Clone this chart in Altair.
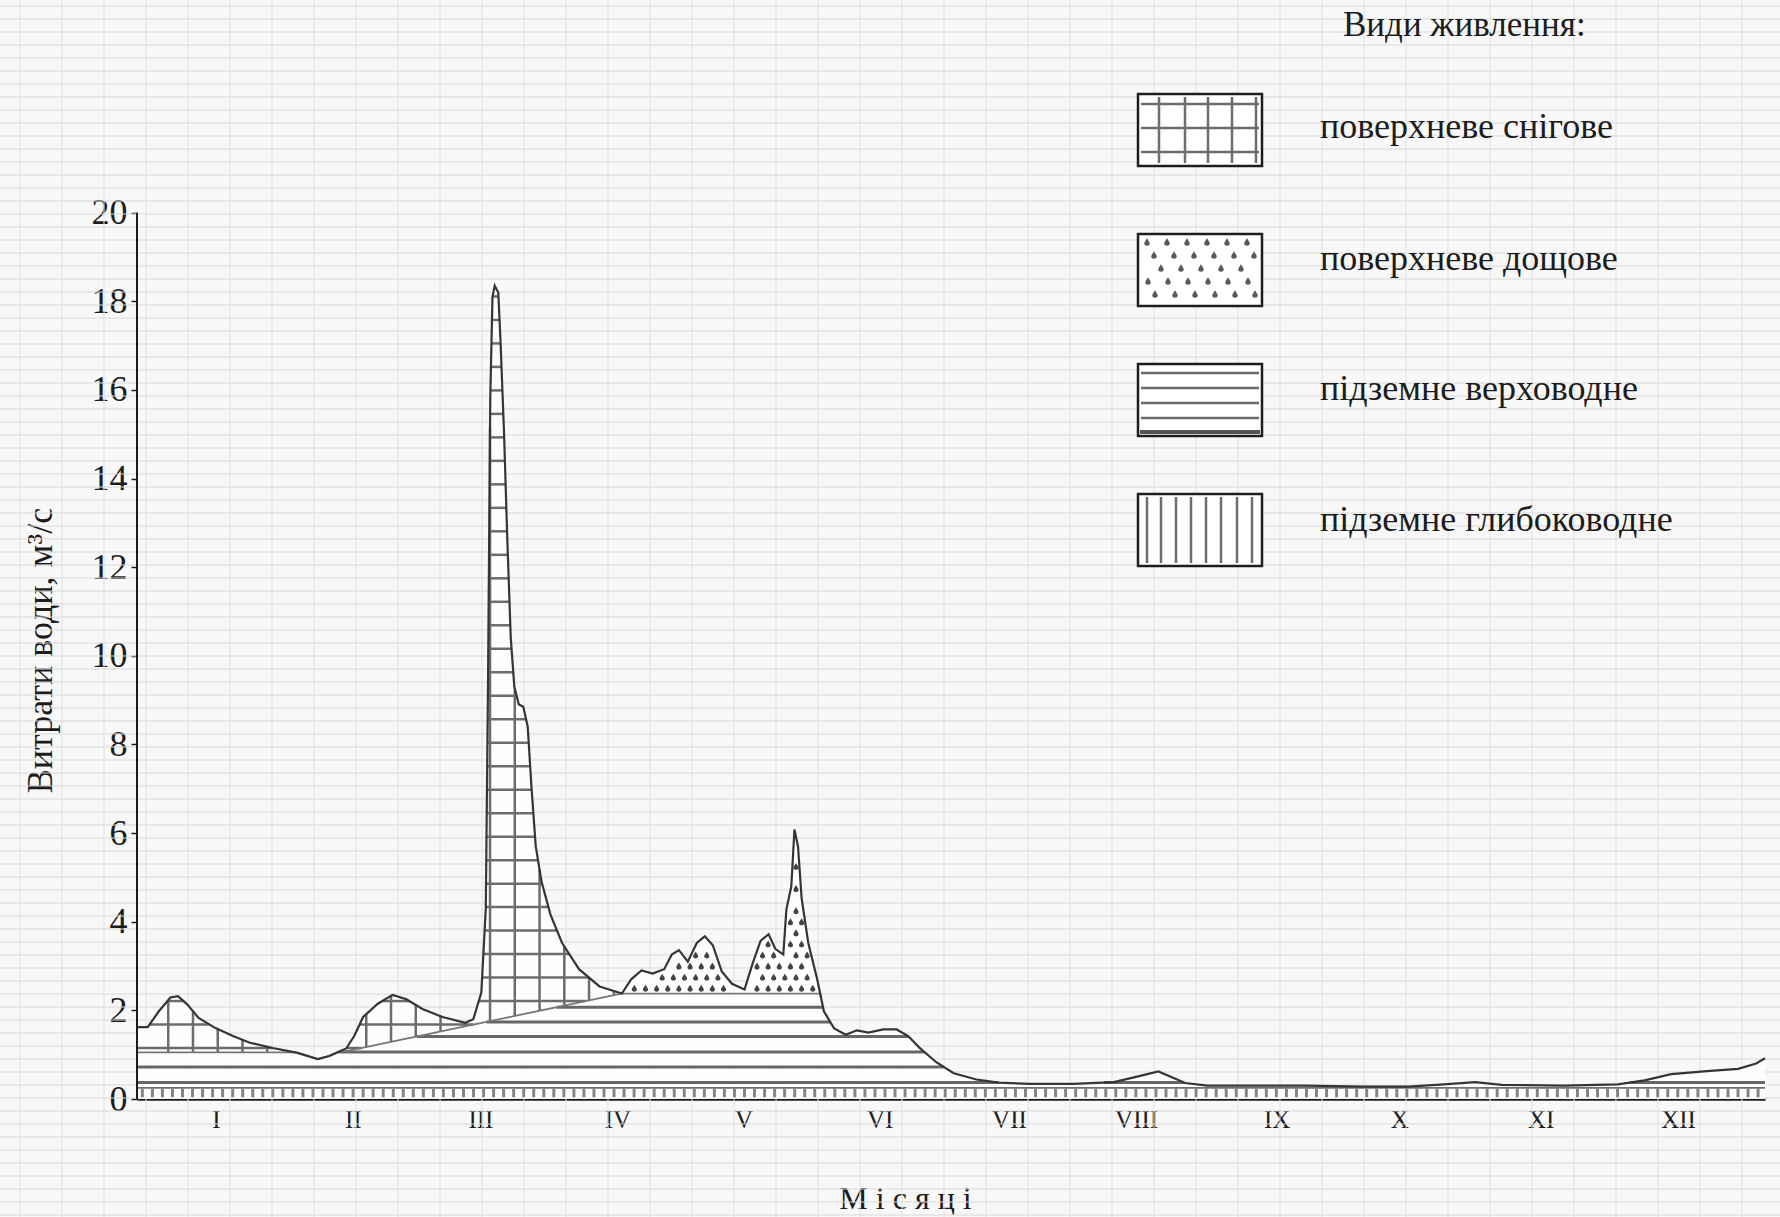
import json
import numpy as np
import pandas as pd
import altair as alt

# ---------------- data ----------------
# daily discharge hydrograph: day of year -> m3/s
flow_day = [0, 2.4, 4.9, 7.5, 9.2, 11.3, 13.8, 17.6, 21.5, 25.3, 30.4, 36.0, 40.5, 43.1,
            46.9, 48.7, 50.7, 54.0, 57.3, 60.4, 64.0, 68.5, 73.6, 75.4, 77.2, 78.2, 78.7,
            79.2, 79.7, 80.2, 81.0, 81.5, 82.3, 83.0, 83.8, 84.6, 85.6, 86.6, 87.6, 88.4,
            89.4, 90.7, 92.7, 95.3, 99.1, 103.7, 108.7, 110.8, 113.1, 115.6, 118.2, 119.9,
            121.5, 123.5, 125.5, 127.3, 129.1, 131.1, 133.4, 136.2, 138.0, 139.8, 141.6,
            143.1, 144.9, 145.6, 146.7, 147.4, 148.2, 149.0, 150.5, 152.5, 154.0, 156.3,
            158.9, 161.4, 164.0, 167.3, 170.3, 172.9, 175.4, 179.2, 183.1, 188.2, 193.2,
            200, 210, 219, 224, 229, 235, 240, 250, 262, 275, 285, 293, 300, 306, 320,
            332, 338, 344, 352, 359, 363, 365]
flow_q = [1.62, 1.62, 1.98, 2.29, 2.32, 2.13, 1.83, 1.6, 1.42, 1.27, 1.15, 1.04, 0.9, 0.97,
          1.14, 1.42, 1.85, 2.15, 2.35, 2.25, 2.03, 1.85, 1.72, 1.8, 2.4, 4.3, 9.4,
          15.8, 18.1, 18.35, 18.2, 17.1, 15.0, 12.7, 10.4, 9.3, 8.9, 8.85, 8.4, 7.1,
          5.7, 4.9, 4.16, 3.52, 2.93, 2.54, 2.38, 2.7, 2.9, 2.83, 2.93, 3.26,
          3.36, 3.1, 3.52, 3.67, 3.47, 2.88, 2.6, 2.47, 3.05, 3.57, 3.72,
          3.39, 3.26, 4.28, 4.8, 6.08, 5.7, 4.54, 3.52, 2.7, 1.98, 1.59,
          1.45, 1.55, 1.5, 1.57, 1.57, 1.42, 1.16, 0.83, 0.58, 0.44, 0.37,
          0.34, 0.34, 0.38, 0.5, 0.62, 0.36, 0.3, 0.3, 0.3, 0.28, 0.28, 0.33, 0.38, 0.32, 0.3,
          0.33, 0.42, 0.56, 0.63, 0.68, 0.8, 0.92]

# upper limit of groundwater feeding (baseflow separation line)
sep_day = [0, 36, 47, 108.7, 195, 200, 330, 345, 365]
sep_q = [1.05, 1.05, 1.08, 2.38, 2.38, 0.38, 0.36, 0.45, 0.5]
deep_top = 0.25      # deep groundwater band
snow_end = 108.7     # snowmelt flood ends, rain floods begin
rain_end = 160

month_labels = ["I", "II", "III", "IV", "V", "VI", "VII", "VIII", "IX", "X", "XI", "XII"]
month_pos = [17.7, 48.4, 77.0, 107.7, 136.0, 166.5, 195.5, 224.0, 255.5, 283.0, 314.7, 345.5]
y_ticks = [0, 2, 4, 6, 8, 10, 12, 14, 16, 18, 20]

legend_title = "Види живлення:"
legend_labels = ["поверхневе снігове", "поверхневе дощове",
                 "підземне верховодне", "підземне глибоководне"]
y_title = "Витрати води, м³/с"
x_title = "М і с я ц і"

# ---------------- layout ----------------
W, H = 1628, 1099
LEFT, RIGHT, BOTTOM = 137, 15, 118
X_MAX, Y_MAX = 365.0, 24.8
FONT = "Liberation Serif"
INK = "#1c1c1c"
HATCH = "#6c6c6c"
DROP = "M0,-1C0.35,-0.4 0.75,0.05 0.75,0.4C0.75,0.8 0.4,1 0,1C-0.4,1 -0.75,0.8 -0.75,0.4C-0.75,0.05 -0.35,-0.4 0,-1Z"


def px_x(px):
    return px / W * X_MAX


def px_y(py):
    return (H - py) / H * Y_MAX


xs = alt.Scale(domain=[0, X_MAX], nice=False, zero=False)
ys = alt.Scale(domain=[0, Y_MAX], nice=False, zero=False)

label_expr = "{}[indexof({}, datum.value)]".format(json.dumps(month_labels), json.dumps(month_pos))
x_axis = alt.Axis(values=month_pos, labelExpr=label_expr, ticks=False, grid=False,
                  domain=True, domainColor=INK, domainWidth=2.5, labelFont=FONT,
                  labelFontSize=25, labelColor=INK, labelPadding=8, labelAngle=0,
                  labelBound=False, labelFlush=False,
                  title=x_title, titleFont=FONT, titleFontSize=32, titleFontWeight="normal",
                  titleColor=INK, titleX=768, titleY=99, titleAlign="center",
                  titleBaseline="middle")
y_axis = alt.Axis(values=y_ticks, domain=False, grid=False, ticks=True, tickSize=6,
                  tickColor=INK, tickWidth=1.5, labelFont=FONT, labelFontSize=36,
                  labelColor=INK, labelPadding=4, title=y_title, titleFont=FONT,
                  titleFontSize=36, titleFontWeight="normal", titleColor=INK,
                  titleX=-97, titleY=650, titleAngle=270, titleAlign="center",
                  titleBaseline="middle")


def X(f):
    return alt.X(f, type="quantitative", scale=xs, axis=x_axis)


def Y(f):
    return alt.Y(f, type="quantitative", scale=ys, axis=y_axis)


# ---------------- derived geometry ----------------
grid = np.round(np.arange(0, X_MAX + 1e-9, 0.05), 3)
total = np.interp(grid, flow_day, flow_q)
base = np.minimum(total, np.interp(grid, sep_day, sep_q))


def hatch_rows(levels, lo, hi, region):
    rows = []
    for lv in levels:
        m = region & (lo <= lv) & (hi >= lv)
        edges = np.flatnonzero(np.diff(np.r_[0, m.astype(np.int8), 0]))
        for a, b in zip(edges[::2], edges[1::2] - 1):
            if grid[b] - grid[a] > 0.3:
                rows.append({"x0": grid[a], "x1": grid[b], "q": lv})
    return pd.DataFrame(rows)


# upper groundwater: horizontal hatching
gw_levels = [0.37, 0.72, 1.06, 1.41, 1.74, 2.07]
gw_df = hatch_rows(gw_levels, np.full_like(grid, deep_top), base, np.ones_like(grid, bool))

# snowmelt: grid hatching
snow_region = grid < snow_end
snow_levels = list(np.round(np.arange(1.15, 18.4, 0.53), 3))
snow_h = hatch_rows(snow_levels, base, total, snow_region)
snow_v = []
for d in np.arange(7.0, snow_end, 5.55):
    lo_d = float(np.interp(d, grid, base))
    hi_d = float(np.interp(d, grid, total))
    if hi_d - lo_d > 0.05:
        snow_v.append({"d": d, "q0": lo_d, "q1": hi_d})
snow_v = pd.DataFrame(snow_v)

# rain: droplets
drops = []
for k, lv in enumerate(np.arange(2.5, 6.2, 0.25)):
    for d in np.arange(109.0 + (k % 2) * 1.25, rain_end, 2.5):
        win = (grid >= d - 0.45) & (grid <= d + 0.45)
        if lv > base[win].max() + 0.08 and lv < total[win].min() - 0.1:
            drops.append({"d": d, "q": lv})
drops = pd.DataFrame(drops)

# deep groundwater band: short vertical strokes
deep_df = pd.DataFrame({"d": np.arange(1.2, X_MAX, 2.25)})
deep_df["q0"] = 0.04
deep_df["q1"] = deep_top - 0.02

flow_df = pd.DataFrame({"d": flow_day, "q": flow_q, "z": 0.0})
sel = grid <= 153.5
base_df = pd.DataFrame({"d": grid[sel][::4], "q": base[sel][::4]})

# paper texture (page pixels -> data units)
tex_h = pd.DataFrame({"py": np.arange(6, H + BOTTOM, 13.0)})
tex_h["q"] = px_y(tex_h["py"])
tex_h["x0"] = px_x(-LEFT)
tex_h["x1"] = px_x(W + RIGHT)
tex_v = pd.DataFrame({"px": np.arange(-LEFT + 20, W + RIGHT, 42.0)})
tex_v["d"] = px_x(tex_v["px"])
tex_v["q0"] = px_y(0)
tex_v["q1"] = px_y(H + BOTTOM)

# ---------------- legend (plot-area pixels) ----------------
box_l, box_r, box_h = 1001, 1125, 72
box_tops = [94, 234, 364, 494]
text_mid = [127, 259, 389, 520]
leg_boxes = pd.DataFrame({"x0": px_x(box_l), "x1": px_x(box_r),
                          "q0": [px_y(t) for t in box_tops],
                          "q1": [px_y(t + box_h) for t in box_tops]})
leg_text = pd.DataFrame({"label": legend_labels, "d": px_x(1183),
                         "q": [px_y(t) for t in text_mid]})
leg_title = pd.DataFrame({"label": [legend_title], "d": [px_x(1206)], "q": [px_y(25)]})

lv_rows, lh_rows, ld_rows = [], [], []
t = box_tops[0]
for rx in [21, 47, 70, 94, 118]:
    lv_rows.append({"d": px_x(box_l + rx), "q0": px_y(t + 3), "q1": px_y(t + box_h - 3)})
for ry in [10, 34, 58]:
    lh_rows.append({"x0": px_x(box_l + 3), "x1": px_x(box_r - 3), "q": px_y(t + ry)})
t = box_tops[1]
for r, ry in enumerate([8, 21, 34, 47, 60]):
    for c in range(6):
        rx = 9 + 20 * c + (r * 7) % 20
        if rx < 119:
            ld_rows.append({"d": px_x(box_l + rx), "q": px_y(t + ry)})
t = box_tops[2]
for ry in [9, 24, 39, 54]:
    lh_rows.append({"x0": px_x(box_l + 3), "x1": px_x(box_r - 3), "q": px_y(t + ry)})
t = box_tops[3]
for rx in [9, 23, 38, 53, 68, 83, 99, 114]:
    lv_rows.append({"d": px_x(box_l + rx), "q0": px_y(t + 3), "q1": px_y(t + box_h - 3)})
leg_v = pd.DataFrame(lv_rows)
leg_h = pd.DataFrame(lh_rows)
leg_d = pd.DataFrame(ld_rows)
leg_bottom = pd.DataFrame({"x0": [px_x(box_l + 2)], "x1": [px_x(box_r - 2)],
                           "q": [px_y(box_tops[2] + box_h - 4)]})

axis_line = pd.DataFrame({"d": [0.0], "q0": [0.0], "q1": [20.0]})

# ---------------- layers ----------------
texture_h = alt.Chart(tex_h).mark_rule(color="#d8d8d8", strokeWidth=1).encode(
    x=X("x0"), x2="x1", y=Y("q"))
texture_v = alt.Chart(tex_v).mark_rule(color="#e0e0e0", strokeWidth=1).encode(
    x=X("d"), y=Y("q0"), y2="q1")

fill = alt.Chart(flow_df).mark_area(color="#ffffff", opacity=0.85).encode(
    x=X("d"), y=Y("q"), y2="z")

gw = alt.Chart(gw_df).mark_rule(color="#666666", strokeWidth=3).encode(
    x=X("x0"), x2="x1", y=Y("q"))

deep_ticks = alt.Chart(deep_df).mark_rule(color="#858585", strokeWidth=3).encode(
    x=X("d"), y=Y("q0"), y2="q1")
deep_line = alt.Chart(pd.DataFrame({"x0": [0.0], "x1": [X_MAX], "q": [deep_top]})).mark_rule(
    color="#707070", strokeWidth=1.8).encode(x=X("x0"), x2="x1", y=Y("q"))

snow_hl = alt.Chart(snow_h).mark_rule(color=HATCH, strokeWidth=2.5).encode(
    x=X("x0"), x2="x1", y=Y("q"))
snow_vl = alt.Chart(snow_v).mark_rule(color=HATCH, strokeWidth=2.5).encode(
    x=X("d"), y=Y("q0"), y2="q1")

rain = alt.Chart(drops).mark_point(shape=DROP, filled=True, size=48, color="#444444",
                                   opacity=1).encode(x=X("d"), y=Y("q"))

base_line = alt.Chart(base_df).mark_line(color="#777777", strokeWidth=1.8).encode(
    x=X("d"), y=Y("q"))
outline = alt.Chart(flow_df).mark_line(color="#353535", strokeWidth=2.2).encode(
    x=X("d"), y=Y("q"))
y_line = alt.Chart(axis_line).mark_rule(color=INK, strokeWidth=2).encode(
    x=X("d"), y=Y("q0"), y2="q1")

legend_box = alt.Chart(leg_boxes).mark_rect(fill="#ffffff", stroke=INK, strokeWidth=2.5).encode(
    x=X("x0"), x2="x1", y=Y("q0"), y2="q1")
legend_v = alt.Chart(leg_v).mark_rule(color=HATCH, strokeWidth=2.5).encode(
    x=X("d"), y=Y("q0"), y2="q1")
legend_h = alt.Chart(leg_h).mark_rule(color=HATCH, strokeWidth=2.5).encode(
    x=X("x0"), x2="x1", y=Y("q"))
legend_hb = alt.Chart(leg_bottom).mark_rule(color="#555555", strokeWidth=4).encode(
    x=X("x0"), x2="x1", y=Y("q"))
legend_d = alt.Chart(leg_d).mark_point(shape=DROP, filled=True, size=55, color="#5a5a5a",
                                       opacity=1).encode(x=X("d"), y=Y("q"))
legend_txt = alt.Chart(leg_text).mark_text(align="left", baseline="middle", font=FONT,
                                           fontSize=36, color=INK).encode(
    x=X("d"), y=Y("q"), text="label:N")
legend_ttl = alt.Chart(leg_title).mark_text(align="left", baseline="middle", font=FONT,
                                            fontSize=35, color=INK).encode(
    x=X("d"), y=Y("q"), text="label:N")

chart = alt.layer(
    texture_h, texture_v, fill, gw, deep_ticks, deep_line, snow_hl, snow_vl, rain,
    base_line, outline, y_line,
    legend_box, legend_v, legend_h, legend_hb, legend_d, legend_txt, legend_ttl,
).properties(
    width=W, height=H,
    autosize=alt.AutoSizeParams(type="none"),
    padding={"left": LEFT, "top": 0, "right": RIGHT, "bottom": BOTTOM},
    background="#f8f8f8",
).configure_view(stroke=None)

chart.save("out.html", embed_options={"renderer": "svg", "actions": False})
